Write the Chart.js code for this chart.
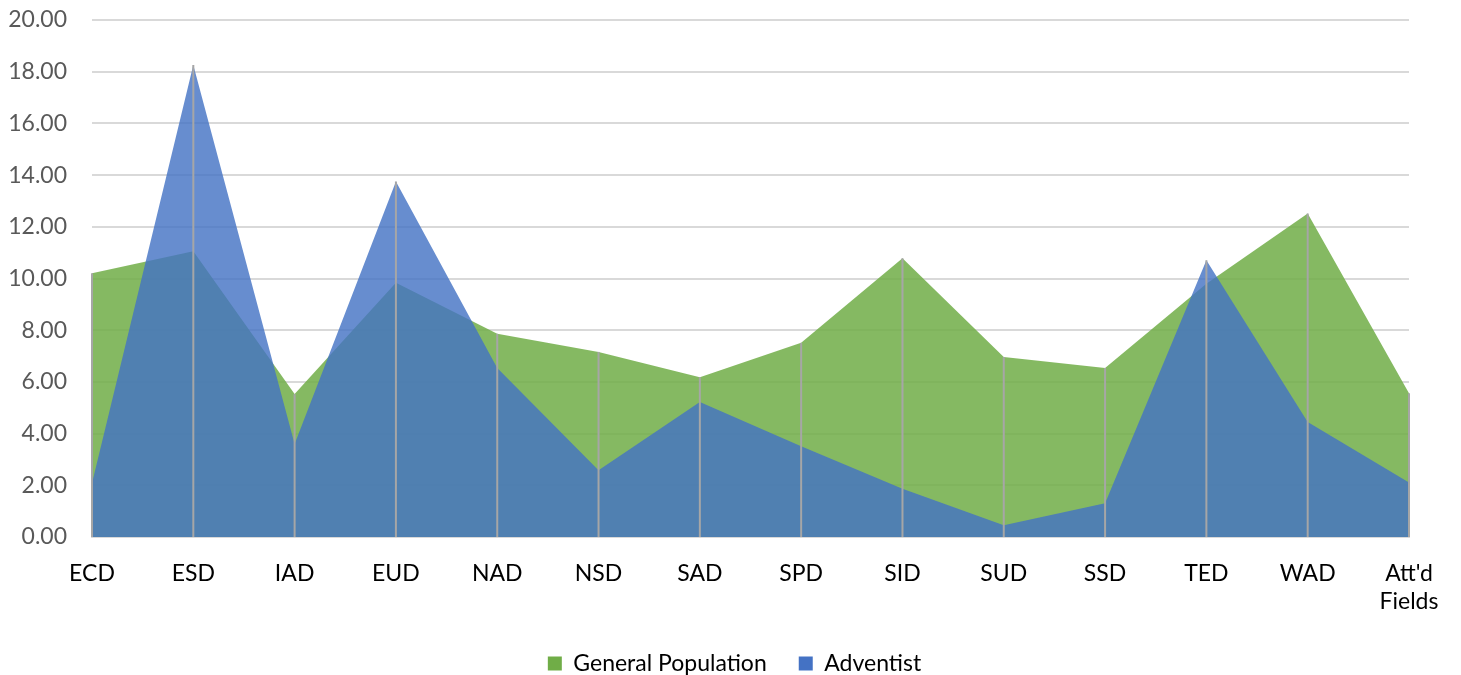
<!DOCTYPE html>
<html>
<head>
<meta charset="utf-8">
<script src="https://cdn.jsdelivr.net/npm/chart.js@4/dist/chart.umd.min.js"></script>
<style>
  html, body { margin: 0; padding: 0; background: #fff; }
  #wrap { width: 1461px; height: 675px; }
</style>
</head>
<body>
<div id="wrap"><canvas id="chart" width="1461" height="675"></canvas></div>
<script>
// Données
const categories = ['ECD', 'ESD', 'IAD', 'EUD', 'NAD', 'NSD', 'SAD', 'SPD', 'SID', 'SUD', 'SSD', 'TED', 'WAD', ["Att'd", 'Fields']];
const generalPopulation = [10.20, 11.05, 5.53, 9.84, 7.86, 7.16, 6.18, 7.51, 10.78, 6.96, 6.54, 9.80, 12.51, 5.56];
const adventist = [2.08, 18.26, 3.60, 13.75, 6.54, 2.58, 5.22, 3.51, 1.87, 0.45, 1.31, 10.71, 4.45, 2.11];
const yTickLabels = ['0.00', '2.00', '4.00', '6.00', '8.00', '10.00', '12.00', '14.00', '16.00', '18.00', '20.00'];

const FONT = 'Lato, "Open Sans", sans-serif';

// Lignes verticales (drop lines) du point le plus haut jusqu'à zéro
const dropLines = {
  id: 'dropLines',
  afterLayout(chart) {
    // élargir la zone de l'axe Y pour que ses libellés ne soient pas coupés
    chart.scales.y.left = 0;
  },
  afterDatasetsDraw(chart) {
    const ctx = chart.ctx;
    const x = chart.scales.x;
    const y = chart.scales.y;
    ctx.save();
    ctx.strokeStyle = '#a6a6a6';
    ctx.lineWidth = 2;
    categories.forEach((c, i) => {
      const px = x.getPixelForValue(i);
      const top = y.getPixelForValue(Math.max(generalPopulation[i], adventist[i]));
      ctx.beginPath();
      ctx.moveTo(px, top);
      ctx.lineTo(px, y.getPixelForValue(0));
      ctx.stroke();
    });
    ctx.restore();
  }
};

new Chart(document.getElementById('chart'), {
  type: 'line',
  data: {
    labels: categories,
    datasets: [
      {
        label: 'General Population',
        data: generalPopulation,
        backgroundColor: 'rgba(112, 173, 71, 0.85)',
        borderWidth: 0,
        pointRadius: 0,
        fill: 'origin',
        order: 1
      },
      {
        label: 'Adventist',
        data: adventist,
        backgroundColor: 'rgba(68, 114, 196, 0.81)',
        borderWidth: 0,
        pointRadius: 0,
        fill: 'origin',
        order: 0
      }
    ]
  },
  options: {
    responsive: false,
    animation: false,
    // marges symétriques pour centrer la légende sur la largeur totale
    layout: { padding: { top: 0, right: 22, bottom: -10, left: 30 } },
    plugins: {
      tooltip: { enabled: false },
      legend: {
        position: 'bottom',
        labels: {
          sort: (a, b) => a.datasetIndex - b.datasetIndex,
          boxWidth: 14,
          boxHeight: 14,
          padding: 32,
          color: '#595959',
          font: { family: FONT, size: 23 },
          generateLabels(chart) {
            return chart.data.datasets.map((ds, i) => ({
              text: ds.label,
              fillStyle: i === 0 ? '#70ad47' : '#4472c4',
              strokeStyle: 'transparent',
              lineWidth: 0,
              datasetIndex: i
            }));
          }
        }
      }
    },
    scales: {
      x: {
        offset: false,
        afterFit: (scale) => {
          scale.height = 83;
          scale.paddingRight = 52;
        },
        grid: { display: false, drawTicks: false },
        border: { display: true, color: '#d9d9d9', width: 2 },
        ticks: {
          color: '#000',
          padding: 23,
          maxRotation: 0,
          autoSkip: false,
          font: { family: FONT, size: 23 }
        }
      },
      y: {
        min: 0,
        max: 20,
        afterFit: (scale) => {
          scale.width = 62;
          scale.paddingTop = 20;
          scale.paddingBottom = 0;
        },
        grid: { color: '#d9d9d9', lineWidth: 2, drawTicks: false },
        border: { display: false },
        ticks: {
          stepSize: 2,
          padding: 25,
          color: '#595959',
          font: { family: FONT, size: 23 },
          callback: (v) => yTickLabels[Math.round(v / 2)]
        }
      }
    }
  },
  plugins: [dropLines]
});
</script>
</body>
</html>
